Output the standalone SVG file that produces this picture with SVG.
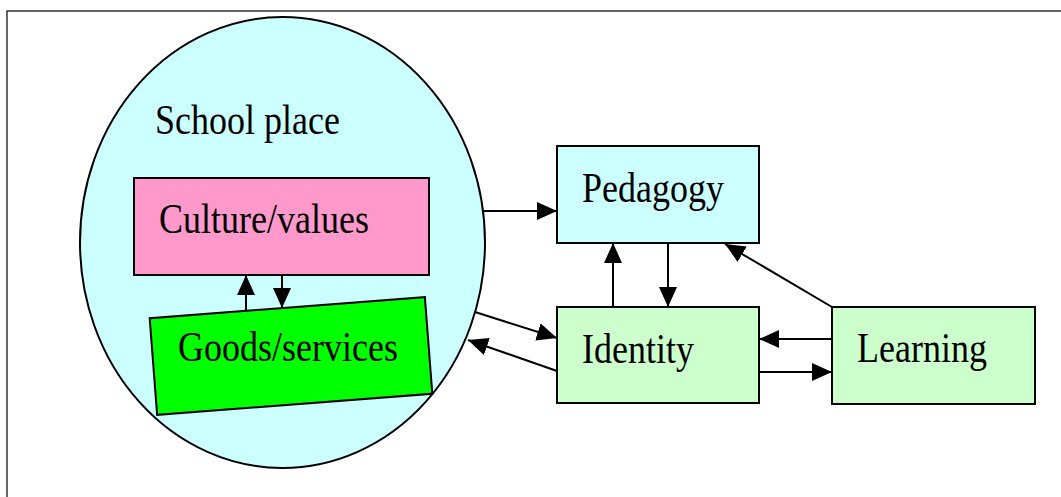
<svg xmlns="http://www.w3.org/2000/svg" width="1061" height="497" viewBox="0 0 1061 497">
<style>
.lbl{font-family:"Liberation Serif","Times New Roman",serif;font-size:36px;fill:#000}
.box{stroke:#000;stroke-width:2}
.con{stroke:#000;stroke-width:2;fill:none;marker-end:url(#ah)}
.frame{stroke:#333;stroke-width:1.5;fill:none}
</style>
<defs>
<marker id="ah" markerUnits="userSpaceOnUse" markerWidth="20" markerHeight="18" refX="20" refY="9" orient="auto">
<path d="M0,0 L20,9 L0,18 Z" fill="#000"/>
</marker>
</defs>
<rect width="1061" height="497" fill="#fff"/>
<path class="frame" d="M7,497 L7,11 L1061,11"/>
<g id="school-place">
<ellipse cx="282.5" cy="242.5" rx="202.5" ry="225.5" fill="#CCFFFF" stroke="#000" stroke-width="2"/>
<text class="lbl" transform="translate(155,134) scale(1,1.2)">School place</text>
</g>
<g id="culture-values">
<rect class="box" x="134" y="178" width="295" height="97" fill="#FF99CC"/>
<text class="lbl" transform="translate(159,233) scale(1,1.2)">Culture/values</text>
</g>
<g id="goods-services">
<rect class="box" x="153" y="307.5" width="276" height="97" fill="#00FF00" transform="rotate(-4.4 291 356)"/>
<text class="lbl" transform="translate(178,361) scale(1,1.2)">Goods/services</text>
</g>
<g id="pedagogy">
<rect class="box" x="557" y="146" width="202" height="97" fill="#CCFFFF"/>
<text class="lbl" transform="translate(582,202) scale(1,1.2)">Pedagogy</text>
</g>
<g id="identity">
<rect class="box" x="557" y="307" width="202" height="96" fill="#CCFFCC"/>
<text class="lbl" transform="translate(582,363) scale(1,1.2)">Identity</text>
</g>
<g id="learning">
<rect class="box" x="832" y="307" width="203" height="97" fill="#CCFFCC"/>
<text class="lbl" transform="translate(857,362) scale(1,1.2)">Learning</text>
</g>
<g id="connectors">
<line class="con" x1="484" y1="211" x2="557" y2="211"/>
<line class="con" x1="613" y1="307" x2="613" y2="243"/>
<line class="con" x1="668" y1="243" x2="668" y2="307"/>
<line class="con" x1="832" y1="307" x2="725" y2="244"/>
<line class="con" x1="832" y1="339" x2="759" y2="339"/>
<line class="con" x1="759" y1="372" x2="832" y2="372"/>
<line class="con" x1="475" y1="312" x2="557" y2="338"/>
<line class="con" x1="557" y1="371" x2="468" y2="340"/>
<line class="con" x1="246" y1="311" x2="246" y2="275"/>
<line class="con" x1="282" y1="275" x2="282" y2="308"/>
</g>
</svg>
